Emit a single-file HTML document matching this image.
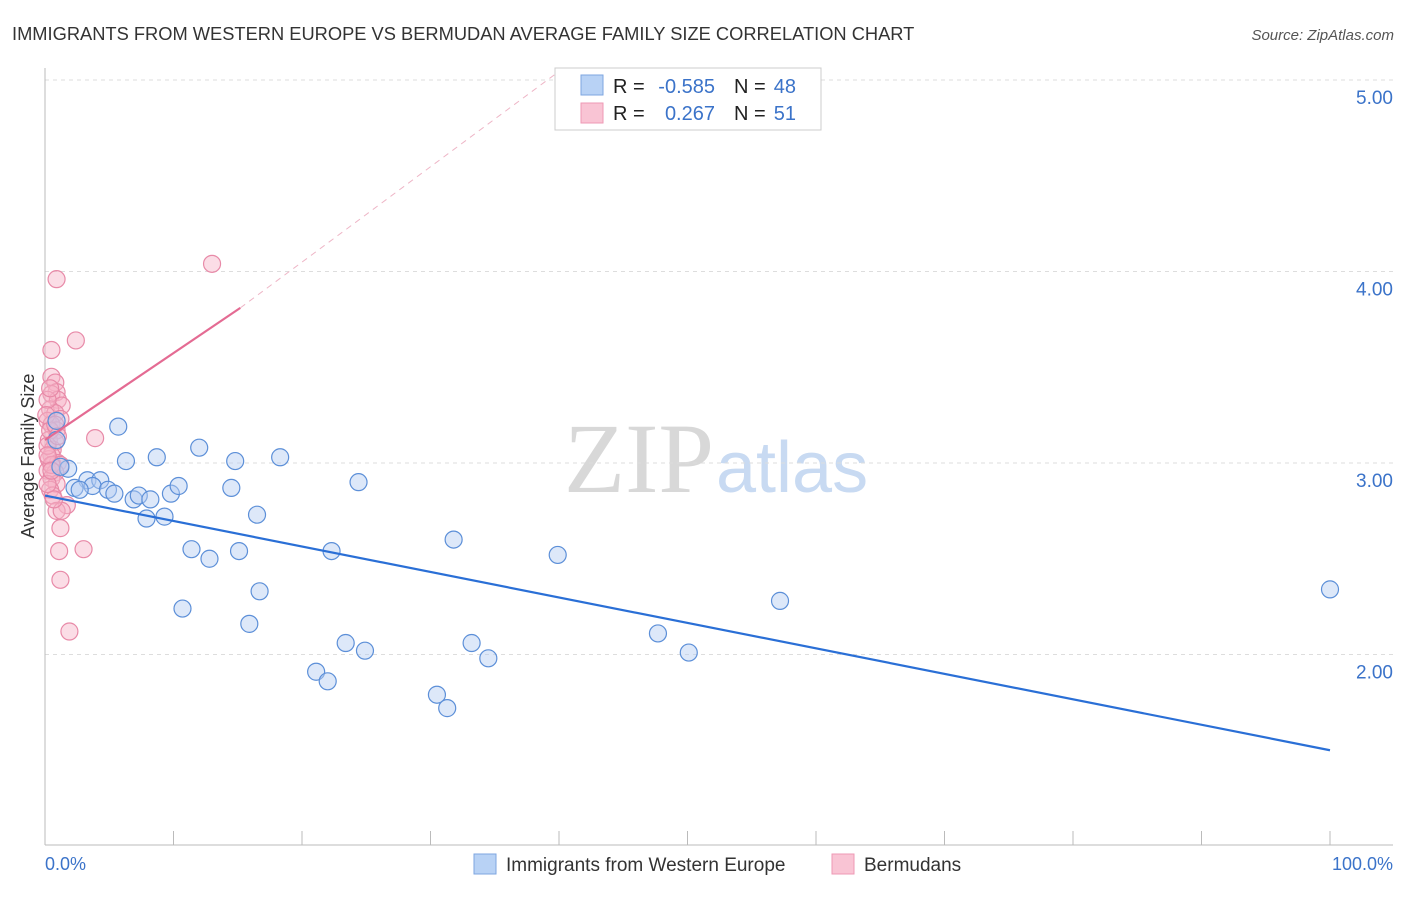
<!DOCTYPE html>
<html><head><meta charset="utf-8"><style>
body{margin:0;background:#fff;font-family:"Liberation Sans",sans-serif}
</style></head><body>
<svg width="1406" height="892" xmlns="http://www.w3.org/2000/svg" font-family="Liberation Sans, sans-serif">
<text x="12" y="40" font-size="18.3" fill="#333">IMMIGRANTS FROM WESTERN EUROPE VS BERMUDAN AVERAGE FAMILY SIZE CORRELATION CHART</text>
<text x="1394" y="40" font-size="15" fill="#555" font-style="italic" text-anchor="end">Source: ZipAtlas.com</text>
<text x="714" y="492" font-size="100" font-family="Liberation Serif, serif" fill="#d8d8d8" text-anchor="end">ZIP</text>
<text x="716" y="492" font-size="72" fill="#c8daf2">atlas</text>
<g id="grid"></g>
<g id="axes"></g>
<g id="marks"></g>
<text transform="translate(34,456) rotate(-90)" font-size="18" fill="#333" text-anchor="middle">Average Family Size</text>
<text x="45" y="870" font-size="18" fill="#3b73c9">0.0%</text>
<text x="1393" y="870" font-size="18" fill="#3b73c9" text-anchor="end">100.0%</text>
<g>
<rect x="474" y="854" width="22" height="20" fill="#b8d2f5" stroke="#7ea6e0"/>
<text x="506" y="871" font-size="19" fill="#333">Immigrants from Western Europe</text>
<rect x="832" y="854" width="22" height="20" fill="#f9c4d4" stroke="#ee99b4"/>
<text x="864" y="871" font-size="19" fill="#333">Bermudans</text>
</g>
<g font-size="20">
<rect x="555" y="68" width="266" height="62" fill="#fff" stroke="#ccc"/>
<rect x="581" y="75" width="22" height="20" fill="#b8d2f5" stroke="#7ea6e0"/>
<rect x="581" y="103" width="22" height="20" fill="#f9c4d4" stroke="#ee99b4"/>
<text x="613" y="93" fill="#222">R =</text>
<text x="715" y="93" fill="#3b73c9" text-anchor="end">-0.585</text>
<text x="734" y="93" fill="#222">N =</text>
<text x="796" y="93" fill="#3b73c9" text-anchor="end">48</text>
<text x="613" y="120" fill="#222">R =</text>
<text x="715" y="120" fill="#3b73c9" text-anchor="end">0.267</text>
<text x="734" y="120" fill="#222">N =</text>
<text x="796" y="120" fill="#3b73c9" text-anchor="end">51</text>
</g>
</svg>
<script>
const yTicks=[2,3,4,5];
const yTickLabels=["2.00","3.00","4.00","5.00"];
const blueX=[5.7,6.3,8.7,12.0,14.8,18.3,1.8,1.2,3.3,4.3,2.3,3.7,2.7,4.9,5.4,6.9,7.3,8.2,9.8,10.4,14.5,24.4,7.9,9.3,16.5,11.4,12.8,15.1,22.3,31.8,39.9,10.7,16.7,15.9,23.4,24.9,21.1,22.0,30.5,31.3,33.2,34.5,47.7,50.1,57.2,100,0.9,0.9];
const blueY=[3.19,3.01,3.03,3.08,3.01,3.03,2.97,2.98,2.91,2.91,2.87,2.88,2.86,2.86,2.84,2.81,2.83,2.81,2.84,2.88,2.87,2.90,2.71,2.72,2.73,2.55,2.50,2.54,2.54,2.60,2.52,2.24,2.33,2.16,2.06,2.02,1.91,1.86,1.79,1.72,2.06,1.98,2.11,2.01,2.28,2.34,3.22,3.12];
const pinkX=[0.9,2.4,13.0,0.5,0.5,0.8,0.9,0.5,1.0,1.3,0.4,0.8,1.2,0.2,0.5,0.9,3.9,0.3,0.8,0.6,0.5,0.3,1.0,0.6,1.2,0.2,0.8,0.5,0.9,0.4,0.6,1.7,0.9,1.3,3.0,1.1,1.2,1.9,0.2,0.4,0.2,0.5,0.7,0.2,0.1,1.2,0.4,0.8,0.2,1.0,0.5];
const pinkY=[3.96,3.64,4.04,3.59,3.45,3.42,3.37,3.36,3.33,3.30,3.28,3.26,3.23,3.22,3.20,3.17,3.13,3.12,3.11,3.07,3.04,3.02,3.00,2.99,2.99,2.96,2.95,2.92,2.89,2.86,2.83,2.78,2.75,2.75,2.55,2.54,2.39,2.12,3.33,3.17,3.09,2.99,2.81,2.89,3.25,2.66,3.39,3.20,3.04,3.14,2.96];
const blueTrend=[[0,2.83],[100,1.50]];
const pinkTrend=[[0,3.12],[15.2,3.81]];
const pinkDash=[[15.2,3.81],[39.7,5.03]];
const NS="http://www.w3.org/2000/svg";
const X=v=>45+v*12.85, Y=v=>463-(v-3)*191.5;
function mk(t,a,p){const e=document.createElementNS(NS,t);for(const k in a)e.setAttribute(k,a[k]);document.getElementById(p).appendChild(e);return e;}
yTicks.forEach((t,i)=>{
 const l=mk('line',{x1:45,x2:1393,y1:Y(t),y2:Y(t),stroke:'#ddd','stroke-dasharray':'4,4'},'grid');
 
 
 const tx=mk('text',{x:1393,y:Y(t)+24,'font-size':19,fill:'#3b73c9','text-anchor':'end'},'grid');
 tx.textContent=yTickLabels[i];
 
 
});
let a=mk('line',{x1:45,x2:45,y1:68,y2:845,stroke:'#bbb'},'axes');


a=mk('line',{x1:45,x2:1393,y1:845,y2:845,stroke:'#bbb'},'axes');


for(let i=0;i<=10;i++){
 const t=mk('line',{x1:X(i*10),x2:X(i*10),y1:831,y2:845,stroke:'#bbb'},'axes');
 
 
}
function pts(xs,ys,fill,stroke,name){
 xs.forEach((x,i)=>{
  const c=mk('circle',{cx:X(x),cy:Y(ys[i]),r:8.5,fill:fill,'fill-opacity':0.45,stroke:stroke,'stroke-width':1.2},'marks');
  
  
 });
}
pts(pinkX,pinkY,'#f7b4c8','#e88aa8','bermudan-point');
pts(blueX,blueY,'#b3cdf2','#5c8fd8','western-europe-point');
function ln(p,stroke,w,dash,name){
 const l=mk('line',{x1:X(p[0][0]),y1:Y(p[0][1]),x2:X(p[1][0]),y2:Y(p[1][1]),stroke:stroke,'stroke-width':w},'marks');
 if(dash)l.setAttribute('stroke-dasharray',dash);
 
 
}
ln(blueTrend,'#2a6fd6',2.2,null,'blue-trend-line');
ln(pinkTrend,'#e46b93',2.2,null,'pink-trend-line');
ln(pinkDash,'#eeb5c6',1,'6,5','pink-trend-extension');
</script>
</body></html>
